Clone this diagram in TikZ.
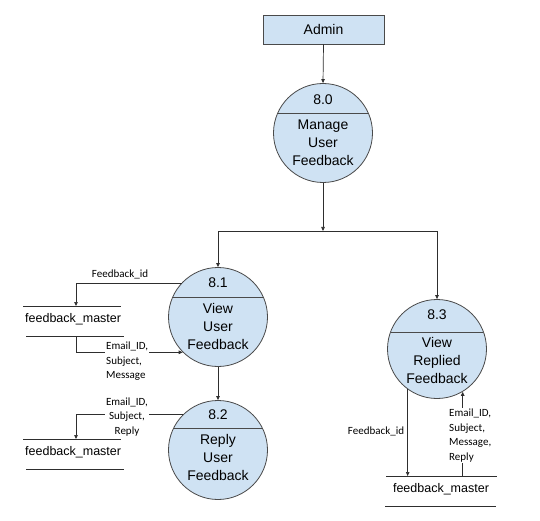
\documentclass[tikz,border=0pt]{standalone}
\usepackage{fontspec}
\setmainfont{Liberation Sans}
\newfontfamily\calfont{Carlito}
\usetikzlibrary{arrows.meta,calc}
\definecolor{procfill}{HTML}{CFE2F3}
\definecolor{procdraw}{HTML}{4A4A4A}
\definecolor{linecol}{HTML}{2E2E2E}
\tikzset{
  proc/.style={circle,draw=procdraw,fill=procfill,line width=0.8pt,minimum size=99pt,inner sep=0pt},
  entbox/.style={rectangle,draw=procdraw,fill=procfill,line width=0.8pt,minimum width=121pt,minimum height=29pt,inner sep=0pt,font=\fontsize{14}{17}\selectfont},
  ptext/.style={align=center,inner sep=0pt,font=\fontsize{14}{18}\selectfont},
  stext/.style={inner sep=2pt,font=\fontsize{12.5}{15}\selectfont},
  flab/.style={inner sep=1pt,font=\calfont\fontsize{11}{14.5}\selectfont},
  conn/.style={draw=linecol,line width=0.7pt},
  arr/.style={conn,-{Triangle[length=4pt,width=3.5pt]}},
  storeline/.style={draw=linecol,line width=0.7pt},
}
\begin{document}
\begin{tikzpicture}[x=1pt,y=-1pt]
\useasboundingbox (0,0) rectangle (540,521);
% external entity
\node[entbox] (admin) at (323.5,29.5) {Admin};
% processes
\node[proc] (c80) at (323,133) {};
\node[proc] (c81) at (218,317) {};
\node[proc] (c82) at (218,450) {};
\node[proc] (c83) at (437,349) {};
% dividers
\foreach \c/\d in {c80/20,c81/20,c82/22,c83/17}{
  \pgfmathsetmacro{\hw}{sqrt(49.5*49.5-\d*\d)}
  \draw[procdraw,line width=0.8pt] ($(\c)+(-\hw,-\d)$) -- ($(\c)+(\hw,-\d)$);
}
% process texts
\node[ptext] (n80) at ($(c80)+(0,-33)$) {8.0};
\node[ptext] (t80) at ($(c80)+(0,10)$) {Manage\\User\\Feedback};
\node[ptext] (n81) at ($(c81)+(0,-34)$) {8.1};
\node[ptext] (t81) at ($(c81)+(0,9)$) {View\\User\\Feedback};
\node[ptext] (n82) at ($(c82)+(0,-35)$) {8.2};
\node[ptext] (t82) at ($(c82)+(0,7)$) {Reply\\User\\Feedback};
\node[ptext] (n83) at ($(c83)+(0,-34)$) {8.3};
\node[ptext] (t83) at ($(c83)+(0,11)$) {View\\Replied\\Feedback};
% data stores
\node[stext,anchor=west] (s1) at (23,319) {feedback\_master};
\draw[storeline] (23,306) -- (121,306);
\draw[storeline] (26,336) -- (124,336);
\node[stext,anchor=west] (s2) at (23,452) {feedback\_master};
\draw[storeline] (23,439) -- (121,439);
\draw[storeline] (26,469) -- (124,469);
\node[stext] (s3) at (441,489) {feedback\_master};
\draw[storeline] (386,476) -- (497,476);
\draw[storeline] (385,506) -- (496,506);
\coordinate (s1top) at (76,306);
\coordinate (s1bot) at (76,336);
\coordinate (s2top) at (76,439);
\coordinate (s3top) at (441,476);
% coordinates of the bus
\coordinate (j1) at (323,231);
\coordinate (jl) at (218,231);
\coordinate (jr) at (437,231);
% connectors
\draw[arr] (admin.south) -- (c80.north);
\draw[arr] (c80.south) -- (j1);
\draw[conn] (jl) -- (jr);
\draw[arr] (jl) -- (c81.north);
\draw[arr] (jr) -- (c83.north);
\draw[arr] (c81.south) -- (c82.north);
\draw[arr] (c81.137) -| (s1top);
\draw[arr] (s1bot) |- (c81.225);
\draw[arr] (c82.135) -| (s2top);
\draw[arr] (c83.234) -- (c83.234 |- s3top);
\draw[arr] (c83.301 |- s3top) -- (c83.301);
% flow labels
\node[flab] (l1) at (120,274) {Feedback\_id};
\node[flab,fill=white,align=left,anchor=north west] (l2) at (105,341) {Email\_ID,\\Subject,\\Message};
\node[flab,fill=white,align=center] (l3) at (127,417) {Email\_ID,\\Subject,\\Reply};
\node[flab] (l4) at (376,431) {Feedback\_id};
\node[flab,fill=white,align=left,anchor=west] (l5) at (448,435.5) {Email\_ID,\\Subject,\\Message,\\Reply};
\end{tikzpicture}
\end{document}
